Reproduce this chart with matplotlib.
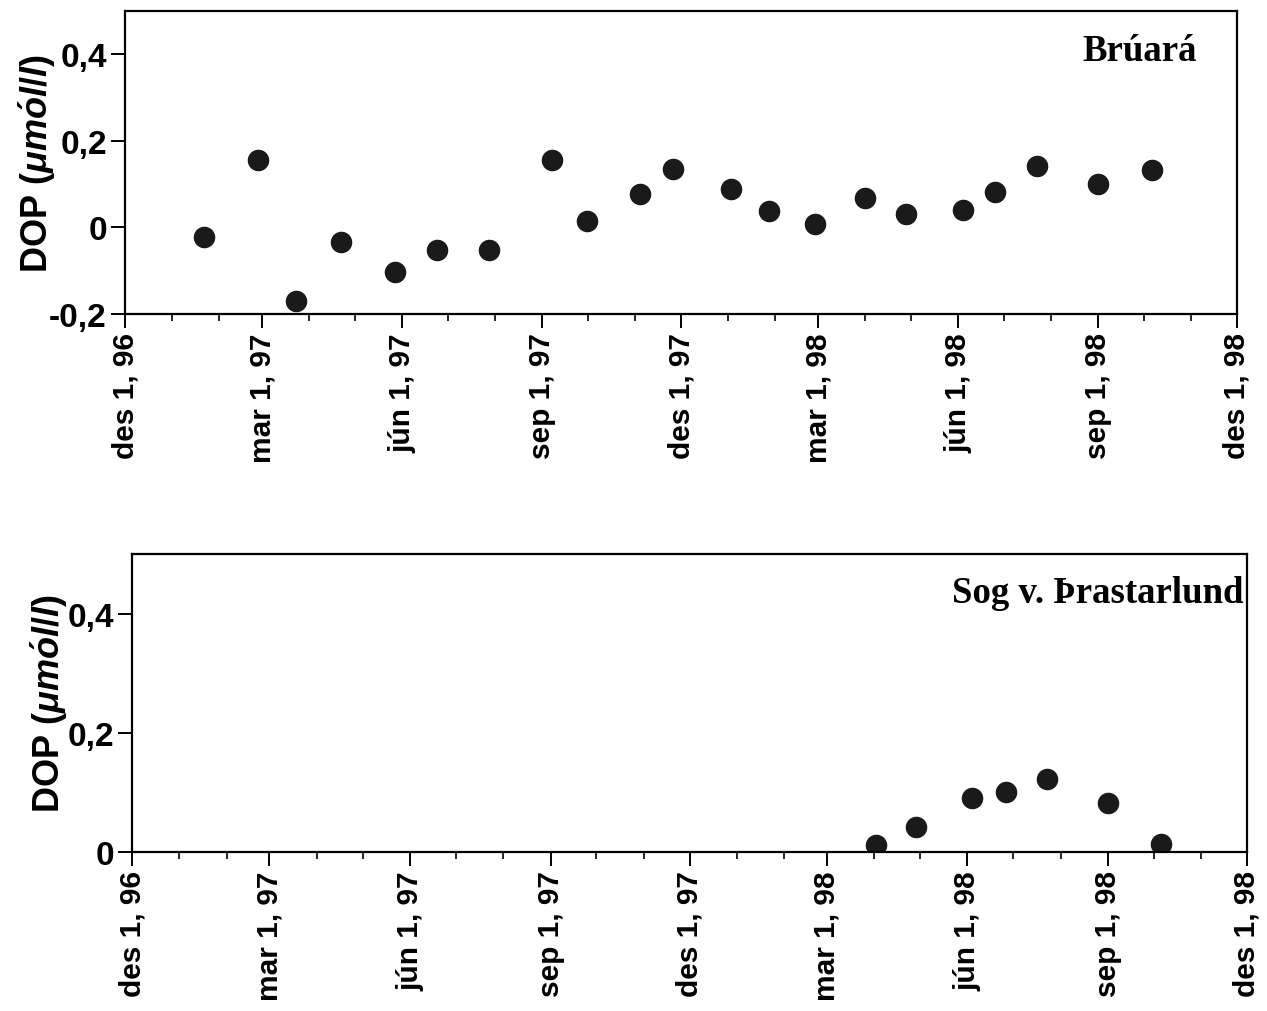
import matplotlib
matplotlib.use("Agg")
import matplotlib.pyplot as plt
import matplotlib.dates as mdates
from matplotlib.ticker import FuncFormatter
import datetime as dt

plt.rcParams['font.family'] = ['Liberation Sans', 'DejaVu Sans']
plt.rcParams['mathtext.fontset'] = 'custom'
plt.rcParams['mathtext.it'] = 'Liberation Sans:italic:bold'
plt.rcParams['mathtext.rm'] = 'Liberation Sans:bold'

# ---- data ----
bruara_dates = ["1997-01-22", "1997-02-26", "1997-03-23", "1997-04-22", "1997-05-27",
                "1997-06-24", "1997-07-28", "1997-09-07", "1997-09-30", "1997-11-04",
                "1997-11-26", "1998-01-03", "1998-01-28", "1998-02-27", "1998-04-01",
                "1998-04-28", "1998-06-04", "1998-06-25", "1998-07-23", "1998-09-01",
                "1998-10-06"]
bruara_dop = [-0.021, 0.156, -0.170, -0.033, -0.102,
              -0.053, -0.051, 0.156, 0.016, 0.077,
              0.135, 0.088, 0.037, 0.007, 0.067,
              0.030, 0.040, 0.081, 0.142, 0.100,
              0.133]

sog_dates = ["1998-04-02", "1998-04-28", "1998-06-04", "1998-06-26",
             "1998-07-23", "1998-09-01", "1998-10-06"]
sog_dop = [0.012, 0.042, 0.091, 0.101, 0.123, 0.083, 0.0135]

tick_dates = ["1996-12-01", "1997-03-01", "1997-06-01", "1997-09-01", "1997-12-01",
              "1998-03-01", "1998-06-01", "1998-09-01", "1998-12-01"]
tick_labels = ["des 1, 96", "mar 1, 97", "jún 1, 97", "sep 1, 97", "des 1, 97",
               "mar 1, 98", "jún 1, 98", "sep 1, 98", "des 1, 98"]

titles = ["Brúará", "Sog v. Þrastarlund"]
ylabel = r'DOP ($\mu\mathit{m\acute{o}l}$/$\mathit{l}$)'


def to_dt(s):
    return dt.datetime.strptime(s, "%Y-%m-%d")


fig = plt.figure(figsize=(12.67, 10.12), dpi=100)
ax1 = fig.add_axes([0.0987, 0.6887, 0.8776, 0.2995])
ax2 = fig.add_axes([0.1042, 0.1571, 0.8800, 0.2945])

panels = [
    (ax1, bruara_dates, bruara_dop, (-0.2, 0.5), [-0.2, 0.0, 0.2, 0.4]),
    (ax2, sog_dates, sog_dop, (0.0, 0.5), [0.0, 0.2, 0.4]),
]


def yfmt(v, pos):
    if abs(v) < 1e-9:
        return "0"
    return ("%.1f" % v).replace(".", ",")


for i, (ax, ds, vs, ylim, yt) in enumerate(panels):
    ax.plot([to_dt(d) for d in ds], vs, 'o', color='#1a1a1a', ms=14.5, mec='#1a1a1a')
    ax.set_xlim(to_dt(tick_dates[0]), to_dt(tick_dates[-1]))
    ax.set_ylim(*ylim)
    ax.set_yticks(yt)
    ax.yaxis.set_major_formatter(FuncFormatter(yfmt))
    ax.set_xticks([to_dt(d) for d in tick_dates])
    ax.set_xticklabels(tick_labels, rotation=90)
    ax.xaxis.set_minor_locator(mdates.MonthLocator())
    ax.tick_params(axis='both', which='major', direction='out', length=10, width=1.4,
                   top=False, right=False, pad=3)
    ax.tick_params(axis='x', which='major', labelsize=21.5)
    ax.tick_params(axis='y', which='major', labelsize=24)
    ax.tick_params(axis='x', which='minor', direction='out', length=5, width=1.2)
    for lab in ax.get_xticklabels() + ax.get_yticklabels():
        lab.set_fontweight('bold')
    for sp in ax.spines.values():
        sp.set_linewidth(1.6)
    ax.set_ylabel(ylabel, fontsize=26, fontweight='bold')
    ax.text(0.964 if i == 0 else 0.997, 0.87, titles[i], transform=ax.transAxes,
            ha='right', va='center', fontsize=26.5, fontweight='bold',
            family='Liberation Serif')

ax1.yaxis.set_label_coords(-0.060, 0.5)
ax2.yaxis.set_label_coords(-0.0555, 0.5)

fig.savefig("out.png", dpi=100, facecolor='white')
